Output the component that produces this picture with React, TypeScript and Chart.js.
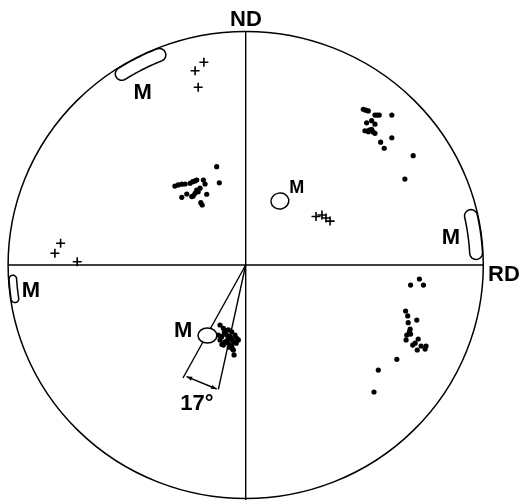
import React, { useEffect, useRef } from "react";
import { Chart, registerables } from "chart.js";

Chart.register(...registerables);

// Pole figure in projection units: circle radius = 100, x -> RD, y -> ND
const R = 100;

const dotPolesUpperRight = [
  [49.5, 66.7], [51.6, 66.0], [50.5, 66.3], [54.4, 64.2], [55.3, 64.2], [56.2, 64.2], [61.5, 64.2],
  [50.9, 60.9], [53.0, 61.8], [54.4, 60.3], [50.2, 57.5], [51.6, 57.1], [52.0, 57.8], [53.0, 58.1],
  [53.6, 57.0], [54.4, 56.4], [56.8, 52.6], [61.5, 54.5], [58.3, 50.0], [70.5, 46.8], [67.0, 36.8],
];
const dotPolesUpperLeft = [
  [-12.2, 42.1], [-11.1, 35.2], [-29.8, 33.8], [-28.4, 34.3], [-26.9, 34.6], [-25.5, 34.7],
  [-23.4, 35.0], [-22.3, 35.7], [-21.3, 36.0], [-20.6, 36.4], [-17.8, 36.4], [-17.1, 34.7],
  [-19.2, 32.9], [-20.6, 32.1], [-21.3, 30.7], [-22.1, 29.6], [-22.7, 29.3], [-24.8, 30.4],
  [-26.9, 29.0], [-16.4, 30.3], [-18.9, 26.7], [-18.3, 25.7], [-20.0, 31.4],
];
const dotPolesLowerRight = [
  [73.1, -6.0], [69.4, -8.6], [74.8, -8.6], [67.3, -19.7], [68.2, -21.8], [72.0, -23.6],
  [68.4, -24.7], [69.2, -27.5], [68.9, -28.6], [67.8, -30.0], [69.4, -29.6], [67.5, -32.1],
  [72.6, -31.7], [71.3, -33.5], [70.3, -34.3], [73.8, -34.7], [72.2, -36.4], [75.9, -34.7],
  [75.5, -36.0], [63.6, -40.4], [55.8, -45.0], [54.0, -54.4],
];
const dotPolesLowerCenter = [
  [-10.8, -25.7], [-9.4, -27.1], [-7.3, -27.8], [-5.9, -28.6], [-4.5, -30.0], [-3.8, -31.4],
  [-5.2, -32.9], [-7.3, -33.5], [-8.7, -32.9], [-10.8, -32.1], [-11.5, -30.0], [-10.1, -30.7],
  [-6.6, -30.7], [-8.0, -30.0], [-5.9, -34.7], [-5.2, -36.4], [-4.9, -38.5], [-6.9, -35.2],
  [-3.1, -32.1], [-9.4, -34.3], [-9.0, -29.0], [-6.0, -31.5], [-7.5, -32.0], [-4.0, -33.5],
  [-8.5, -28.2], [-5.5, -36.0], [-10.0, -34.0],
];
const crossPoles = [
  [-17.6, 86.8], [-21.3, 83.2], [-20.0, 76.1],
  [-77.9, 9.3], [-80.3, 5.0], [-70.9, 1.4],
  [29.6, 20.8], [32.1, 21.4], [33.8, 20.1], [35.5, 18.8],
];

// "M" regions on the rim: angle range (deg) and radial range
const rimStartDeg = [112, 3, 183.5];
const rimEndDeg = [122.5, 12.5, 188.5];
const rimInner = [94.3, 94.4, 96.6];
const rimOuter = [99.8, 99.8, 99.8];
// "M" regions inside: centre, radii, rotation
const ovalCx = [14.4, -16.1];
const ovalCy = [27.4, -30.2];
const ovalRx = [3.8, 4.0];
const ovalRy = [3.4, 3.2];
const ovalRot = [10, 0];

const labelTexts = ["ND", "RD", "M", "M", "M", "M", "M", "17°"];
const labelX = [0.1, 108.7, -43.4, 21.5, 86.4, -90.4, -26.3, -20.5];
const labelY = [105.8, -3.4, 74.5, 33.5, 12.4, -10.5, -27.4, -58.9];
const labelSize = [22, 22, 22, 18, 22, 22, 22, 22];

// 17° wedge
const wedgeLeftEnd = [-26.4, -48.4];
const wedgeRightEnd = [-11.5, -53.3];
const arrowStart = [-24.9, -47.8];
const arrowEnd = [-12.2, -53.1];

const toPts = (arr: number[][]) => arr.map(([x, y]) => ({ x, y }));

const polePlugin = {
  id: "polePlugin",
  beforeDatasetsDraw(chart: any) {
    const { ctx, scales } = chart;
    const xs = scales.x, ys = scales.y;
    const cx = xs.getPixelForValue(0), cy = ys.getPixelForValue(0);
    const rx = xs.getPixelForValue(R) - cx, ry = cy - ys.getPixelForValue(R);
    ctx.save();
    ctx.strokeStyle = "#000";
    ctx.lineWidth = 1.5;
    ctx.beginPath();
    ctx.ellipse(cx, cy, rx, ry, 0, 0, Math.PI * 2);
    ctx.stroke();
    ctx.restore();
  },
  afterDatasetsDraw(chart: any) {
    const { ctx, scales } = chart;
    const xs = scales.x, ys = scales.y;
    const kx = (xs.getPixelForValue(R) - xs.getPixelForValue(0)) / R;
    const ky = (ys.getPixelForValue(0) - ys.getPixelForValue(R)) / R;
    const k = (kx + ky) / 2;
    const P = (x: number, y: number) => [xs.getPixelForValue(x), ys.getPixelForValue(y)];
    ctx.save();
    ctx.strokeStyle = "#000";
    ctx.lineWidth = 1.5;
    // rim regions (curved capsules)
    for (let i = 0; i < rimStartDeg.length; i++) {
      const a1 = (rimStartDeg[i] * Math.PI) / 180, a2 = (rimEndDeg[i] * Math.PI) / 180;
      const ri = rimInner[i], ro = rimOuter[i];
      const rm = (ri + ro) / 2, hw = (ro - ri) / 2;
      ctx.beginPath();
      const n = 24;
      for (let j = 0; j <= n; j++) {
        const a = a1 + ((a2 - a1) * j) / n;
        const [px, py] = P(ro * Math.cos(a), ro * Math.sin(a));
        j === 0 ? ctx.moveTo(px, py) : ctx.lineTo(px, py);
      }
      for (let j = 0; j <= 12; j++) {
        const t = (Math.PI * j) / 12;
        const ex = rm * Math.cos(a2) + hw * (Math.cos(t) * Math.cos(a2) - Math.sin(t) * Math.sin(a2));
        const ey = rm * Math.sin(a2) + hw * (Math.cos(t) * Math.sin(a2) + Math.sin(t) * Math.cos(a2));
        const [px, py] = P(ex, ey);
        ctx.lineTo(px, py);
      }
      for (let j = n; j >= 0; j--) {
        const a = a1 + ((a2 - a1) * j) / n;
        const [px, py] = P(ri * Math.cos(a), ri * Math.sin(a));
        ctx.lineTo(px, py);
      }
      for (let j = 0; j <= 12; j++) {
        const t = Math.PI + (Math.PI * j) / 12;
        const ex = rm * Math.cos(a1) + hw * (Math.cos(t) * Math.cos(a1) - Math.sin(t) * Math.sin(a1));
        const ey = rm * Math.sin(a1) + hw * (Math.cos(t) * Math.sin(a1) + Math.sin(t) * Math.cos(a1));
        const [px, py] = P(ex, ey);
        ctx.lineTo(px, py);
      }
      ctx.closePath();
      ctx.fillStyle = "#fff";
      ctx.fill();
      ctx.stroke();
    }
    for (let i = 0; i < ovalCx.length; i++) {
      const [px, py] = P(ovalCx[i], ovalCy[i]);
      ctx.save();
      ctx.translate(px, py);
      ctx.rotate((-ovalRot[i] * Math.PI) / 180);
      ctx.beginPath();
      ctx.ellipse(0, 0, ovalRx[i] * k, ovalRy[i] * k, 0, 0, Math.PI * 2);
      ctx.fillStyle = "#fff";
      ctx.fill();
      ctx.stroke();
      ctx.restore();
    }
    // dimension arrow
    const [ax, ay] = P(arrowStart[0], arrowStart[1]);
    const [bx, by] = P(arrowEnd[0], arrowEnd[1]);
    ctx.lineWidth = 1.4;
    ctx.beginPath();
    ctx.moveTo(ax, ay);
    ctx.lineTo(bx, by);
    ctx.stroke();
    const ang = Math.atan2(by - ay, bx - ax);
    const head = (x: number, y: number, a: number) => {
      ctx.beginPath();
      ctx.moveTo(x, y);
      ctx.lineTo(x + 6 * Math.cos(a + 0.35), y + 6 * Math.sin(a + 0.35));
      ctx.lineTo(x + 6 * Math.cos(a - 0.35), y + 6 * Math.sin(a - 0.35));
      ctx.closePath();
      ctx.fillStyle = "#000";
      ctx.fill();
    };
    head(ax, ay, ang);
    head(bx, by, ang + Math.PI);
    // labels
    ctx.fillStyle = "#000";
    ctx.textAlign = "center";
    ctx.textBaseline = "alphabetic";
    for (let i = 0; i < labelTexts.length; i++) {
      const s = labelSize[i];
      ctx.font = `bold ${s}px "Liberation Sans", Arial, sans-serif`;
      const [px, py] = P(labelX[i], labelY[i]);
      ctx.fillText(labelTexts[i], px, py + s * 0.36);
    }
    ctx.restore();
  },
};

export default function App() {
  const ref = useRef<HTMLCanvasElement>(null);
  useEffect(() => {
    if (!ref.current) return;
    const lineDs = (pts: number[][]) => ({
      type: "line" as const,
      data: toPts(pts),
      showLine: true,
      borderColor: "#000",
      borderWidth: 1.4,
      pointRadius: 0,
      fill: false,
      clip: false as any,
    });
    const dotDs = (pts: number[][]) => ({
      type: "scatter" as const,
      data: toPts(pts),
      pointStyle: "circle",
      pointRadius: 2.6,
      backgroundColor: "#000",
      borderWidth: 0,
      clip: false as any,
    });
    const chart = new Chart(ref.current, {
      type: "scatter",
      data: {
        datasets: [
          lineDs([[0, R], [0, -102]]),
          lineDs([[-R, 0], [R, 0]]),
          lineDs([[0, 0], wedgeLeftEnd]),
          lineDs([[0, 0], wedgeRightEnd]),
          dotDs(dotPolesUpperRight),
          dotDs(dotPolesUpperLeft),
          dotDs(dotPolesLowerRight),
          dotDs(dotPolesLowerCenter),
          {
            type: "scatter" as const,
            data: toPts(crossPoles),
            pointStyle: "cross",
            pointRadius: 4.5,
            borderColor: "#000",
            borderWidth: 1.6,
            clip: false as any,
          },
        ] as any,
      },
      options: {
        animation: false,
        responsive: false,
        maintainAspectRatio: false,
        layout: { padding: { left: 8.1, right: 36.7, top: 31.5, bottom: 0 } },
        plugins: { legend: { display: false }, tooltip: { enabled: false } },
        scales: {
          x: { type: "linear", min: -R, max: R, display: false },
          y: { type: "linear", min: -98.03, max: R, display: false },
        },
      },
      plugins: [polePlugin],
    });
    return () => chart.destroy();
  }, []);
  return (
    <div style={{ position: "absolute", left: 0, top: 0, width: 520, height: 500, background: "#fff" }}>
      <canvas ref={ref} width={520} height={500} style={{ width: 520, height: 500 }} />
    </div>
  );
}
